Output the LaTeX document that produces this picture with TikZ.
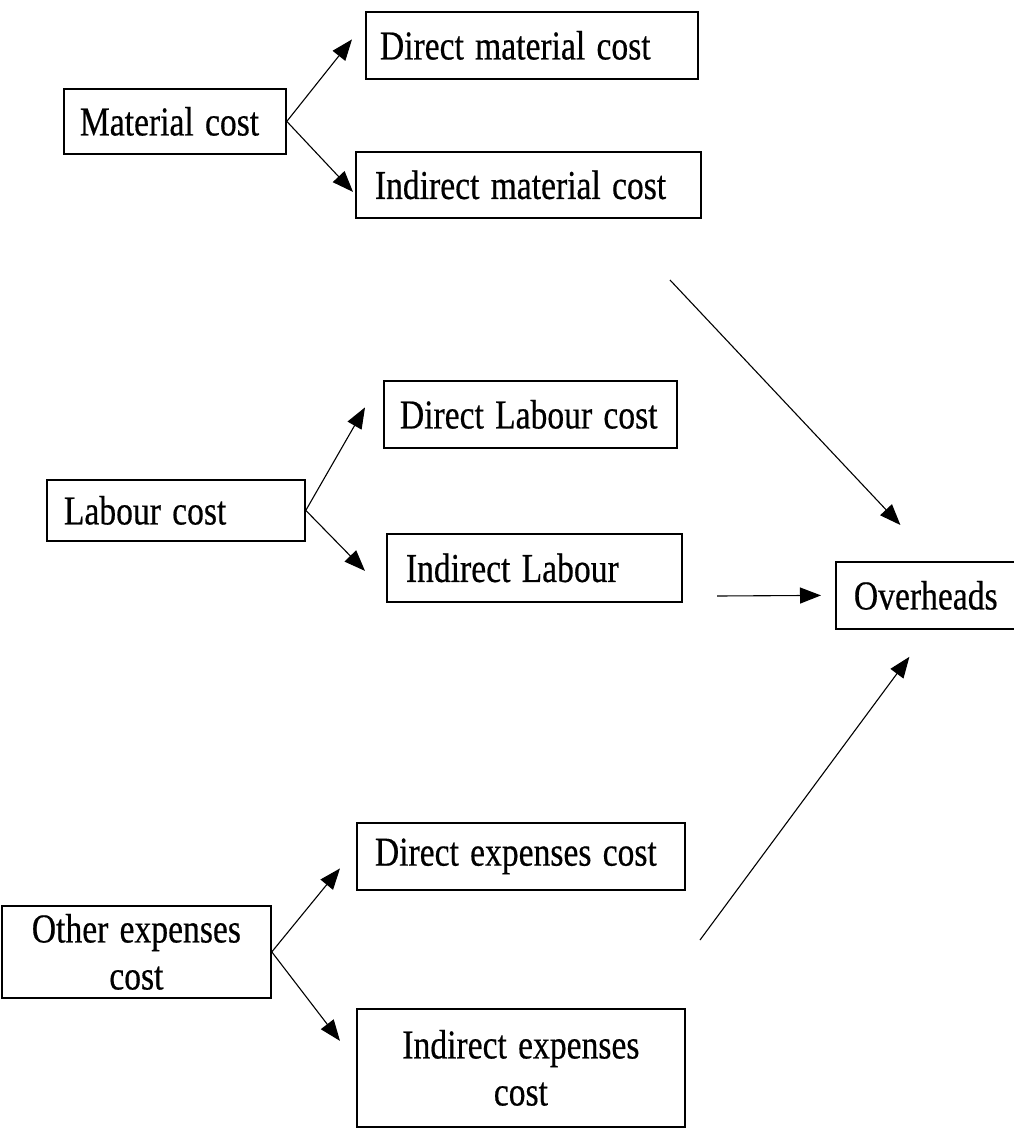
\documentclass[tikz,border=0pt]{standalone}
\usepackage{graphicx}
\usepackage{fontspec}
\setmainfont{Liberation Serif}[FakeBold=0.5]
\usetikzlibrary{arrows.meta,calc}
\newcommand\diagboxfont{\fontsize{41}{47}\selectfont}
\newcommand\sqtext[1]{\scalebox{0.82}[1]{#1}}
\begin{document}
\begin{tikzpicture}[x=1pt,y=-1pt,
  box/.style={draw, line width=1.8pt, rectangle, anchor=north west, inner ysep=0pt,
    font=\diagboxfont},
  lbox/.style={box, align=left},
  cbox/.style={box, align=center, inner xsep=0pt},
  arr/.style={line width=1.1pt, -{Triangle[length=21pt,width=16pt]}}]
\useasboundingbox (0,0) rectangle (1014,1136);
\fill[white] (0,0) rectangle (1014,1136);

\node[lbox, inner xsep=16pt, text width=190pt, minimum height=65pt] (mat) at (63,88) {\sqtext{Material cost}};
\node[lbox, inner xsep=14pt, text width=304pt, minimum height=67pt] (dmc) at (365,11) {\sqtext{Direct material cost}};
\node[lbox, inner xsep=19pt, text width=307pt, minimum height=66pt] (imc) at (355,151) {\sqtext{Indirect material cost}};

\node[lbox, inner xsep=17pt, text width=224pt, minimum height=61pt] (lab) at (46,479) {\sqtext{Labour cost}};
\node[lbox, inner xsep=16pt, text width=261pt, minimum height=67pt] (dlc) at (383,380) {\sqtext{Direct Labour cost}};
\node[lbox, inner xsep=19pt, text width=257pt, minimum height=68pt] (ilc) at (386,533) {\sqtext{Indirect Labour}};

\node[lbox, inner xsep=18pt, text width=149pt, minimum height=67pt] (ovh) at (835,561) {\sqtext{Overheads}};

\node[lbox, inner xsep=18pt, text width=292pt, minimum height=67pt] (dec) at (356,822) {\sqtext{Direct expenses cost}};
\node[cbox, text width=269pt, minimum height=92pt] (oec) at (1,905) {\sqtext{Other expenses}\\\sqtext{cost}};
\node[cbox, text width=328pt, minimum height=118pt] (iec) at (356,1008) {\sqtext{Indirect expenses}\\\sqtext{cost}};

\draw[arr] (mat.east) -- ($(dmc.west)+(-13,-6)$);
\draw[arr] (mat.east) -- ($(imc.west)+(-2,7)$);
\draw[arr] (lab.east) -- ($(dlc.west)+(-18,-7)$);
\draw[arr] (lab.east) -- ($(ilc.west)+(-21,3)$);
\draw[arr] (oec.east) -- ($(dec.west)+(-16,12)$);
\draw[arr] (oec.east) -- ($(iec.west)+(-16,-27)$);

\coordinate (s1) at (670,280);
\coordinate (s2) at (717,596);
\coordinate (s3) at (700,940);
\draw[arr] (s1) -- ($(ovh.north)+(-28,-36)$);
\draw[arr] (s2) -- ($(ovh.west)+(-14,0)$);
\draw[arr] (s3) -- ($(ovh.south)+(-19,27)$);
\end{tikzpicture}
\end{document}
